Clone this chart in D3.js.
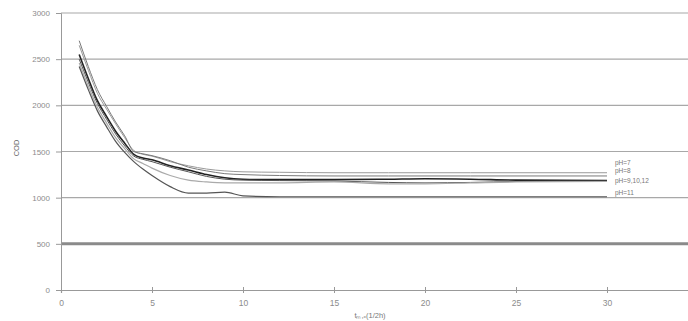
<!DOCTYPE html>
<html>
<head>
<meta charset="utf-8">
<script src="https://cdn.jsdelivr.net/npm/d3@7"></script>
<style>
  body { margin: 0; background: #fff; }
  svg { display: block; font-family: "Liberation Sans", Arial, sans-serif; }
</style>
</head>
<body>
<div id="chart"></div>
<script>
// time steps (1/2 h)
const times = [1, 1.5, 2, 2.5, 3, 3.5, 4, 4.5, 5, 6, 7, 8, 9, 10, 12, 15, 18, 20, 22.5, 25, 30];

// COD per series
const seriesNames = ['pH=7', 'pH=8', 'pH=9', 'pH=10', 'pH=12', 'pH=11'];
const ph7  = [2650, 2380, 2130, 1960, 1800, 1650, 1510, 1470, 1450, 1390, 1345, 1310, 1290, 1280, 1275, 1270, 1270, 1270, 1270, 1270, 1270];
const ph8  = [2700, 2420, 2170, 1990, 1820, 1670, 1500, 1475, 1455, 1400, 1330, 1290, 1260, 1250, 1240, 1235, 1235, 1235, 1235, 1235, 1235];
const ph9  = [2550, 2290, 2050, 1880, 1720, 1590, 1470, 1430, 1410, 1345, 1300, 1250, 1215, 1200, 1195, 1195, 1200, 1205, 1200, 1190, 1185];
const ph10 = [2500, 2250, 2020, 1850, 1690, 1560, 1450, 1415, 1390, 1330, 1280, 1230, 1200, 1190, 1185, 1180, 1165, 1160, 1165, 1175, 1180];
const ph12 = [2460, 2210, 1980, 1810, 1650, 1530, 1420, 1370, 1320, 1240, 1190, 1170, 1160, 1160, 1160, 1170, 1150, 1150, 1160, 1170, 1175];
const ph11 = [2420, 2170, 1940, 1770, 1610, 1490, 1390, 1310, 1240, 1120, 1050, 1050, 1060, 1020, 1010, 1010, 1010, 1010, 1010, 1010, 1010];
const seriesValues = [ph7, ph8, ph9, ph10, ph12, ph11];

// end labels
const labelNames = ['pH=7', 'pH=8', 'pH=9,10,12', 'pH=11'];
const labelValues = [1380, 1290, 1180, 1050];

const yTicks = [0, 500, 1000, 1500, 2000, 2500, 3000];
const xTicks = [0, 5, 10, 15, 20, 25, 30, 35];

const width = 688, height = 321;
const x = d3.scaleLinear().domain([0, 35]).range([61, 698]);
const y = d3.scaleLinear().domain([0, 3000]).range([290, 13]);

const svg = d3.select('#chart').append('svg')
  .attr('width', width)
  .attr('height', height);

// grid
svg.append('g').selectAll('line')
  .data(yTicks.filter(d => d > 0))
  .enter().append('line')
  .attr('x1', 61).attr('x2', width)
  .attr('y1', d => y(d)).attr('y2', d => y(d))
  .attr('stroke', d => d === 500 ? '#8a8a8a' : '#a8a8a8')
  .attr('stroke-width', d => d === 500 ? 3 : 1.2);

// y axis
const yAxis = svg.append('g')
  .attr('transform', 'translate(61,0)')
  .call(d3.axisLeft(y).tickValues(yTicks).tickFormat(d3.format('d')).tickSize(5).tickPadding(6));
yAxis.select('.domain').attr('stroke', '#999');
yAxis.selectAll('.tick line').attr('stroke', '#999');
yAxis.selectAll('text').attr('fill', '#8c8c8c').style('font-size', '8px');

// x axis
const xAxis = svg.append('g')
  .attr('transform', 'translate(0,290)')
  .call(d3.axisBottom(x).tickValues(xTicks).tickSize(3).tickPadding(7));
xAxis.select('.domain').attr('stroke', '#999').attr('stroke-width', 1.2);
xAxis.selectAll('.tick line').attr('stroke', '#999').attr('y1', -3);
xAxis.selectAll('text').attr('fill', '#8c8c8c').style('font-size', '8.5px');

// axis titles
svg.append('text')
  .attr('transform', 'translate(19,148) rotate(-90)')
  .attr('text-anchor', 'middle')
  .attr('fill', '#666')
  .style('font-size', '7.5px')
  .text('COD');

svg.append('text')
  .attr('x', 370).attr('y', 318)
  .attr('text-anchor', 'middle')
  .attr('fill', '#777')
  .style('font-size', '7.5px')
  .text('tₘ,ₓ(1/2h)');

// lines
const line = d3.line()
  .x((d, i) => x(times[i]))
  .y(d => y(d))
  .curve(d3.curveMonotoneX);

const lineColors = ['#9a9a9a', '#7a7a7a', '#222', '#555', '#aaa', '#555'];
const lineWidths = [1, 1, 1.6, 1, 1.2, 1.2];

svg.append('g').selectAll('path')
  .data(seriesValues)
  .enter().append('path')
  .attr('d', line)
  .attr('fill', 'none')
  .attr('stroke', (d, i) => lineColors[i])
  .attr('stroke-width', (d, i) => lineWidths[i]);

// labels at right
svg.append('g').selectAll('text')
  .data(labelNames)
  .enter().append('text')
  .attr('x', x(30) + 8)
  .attr('y', (d, i) => y(labelValues[i]) + 2)
  .attr('fill', '#777')
  .style('font-size', '6.5px')
  .text(d => d);
</script>
</body>
</html>
